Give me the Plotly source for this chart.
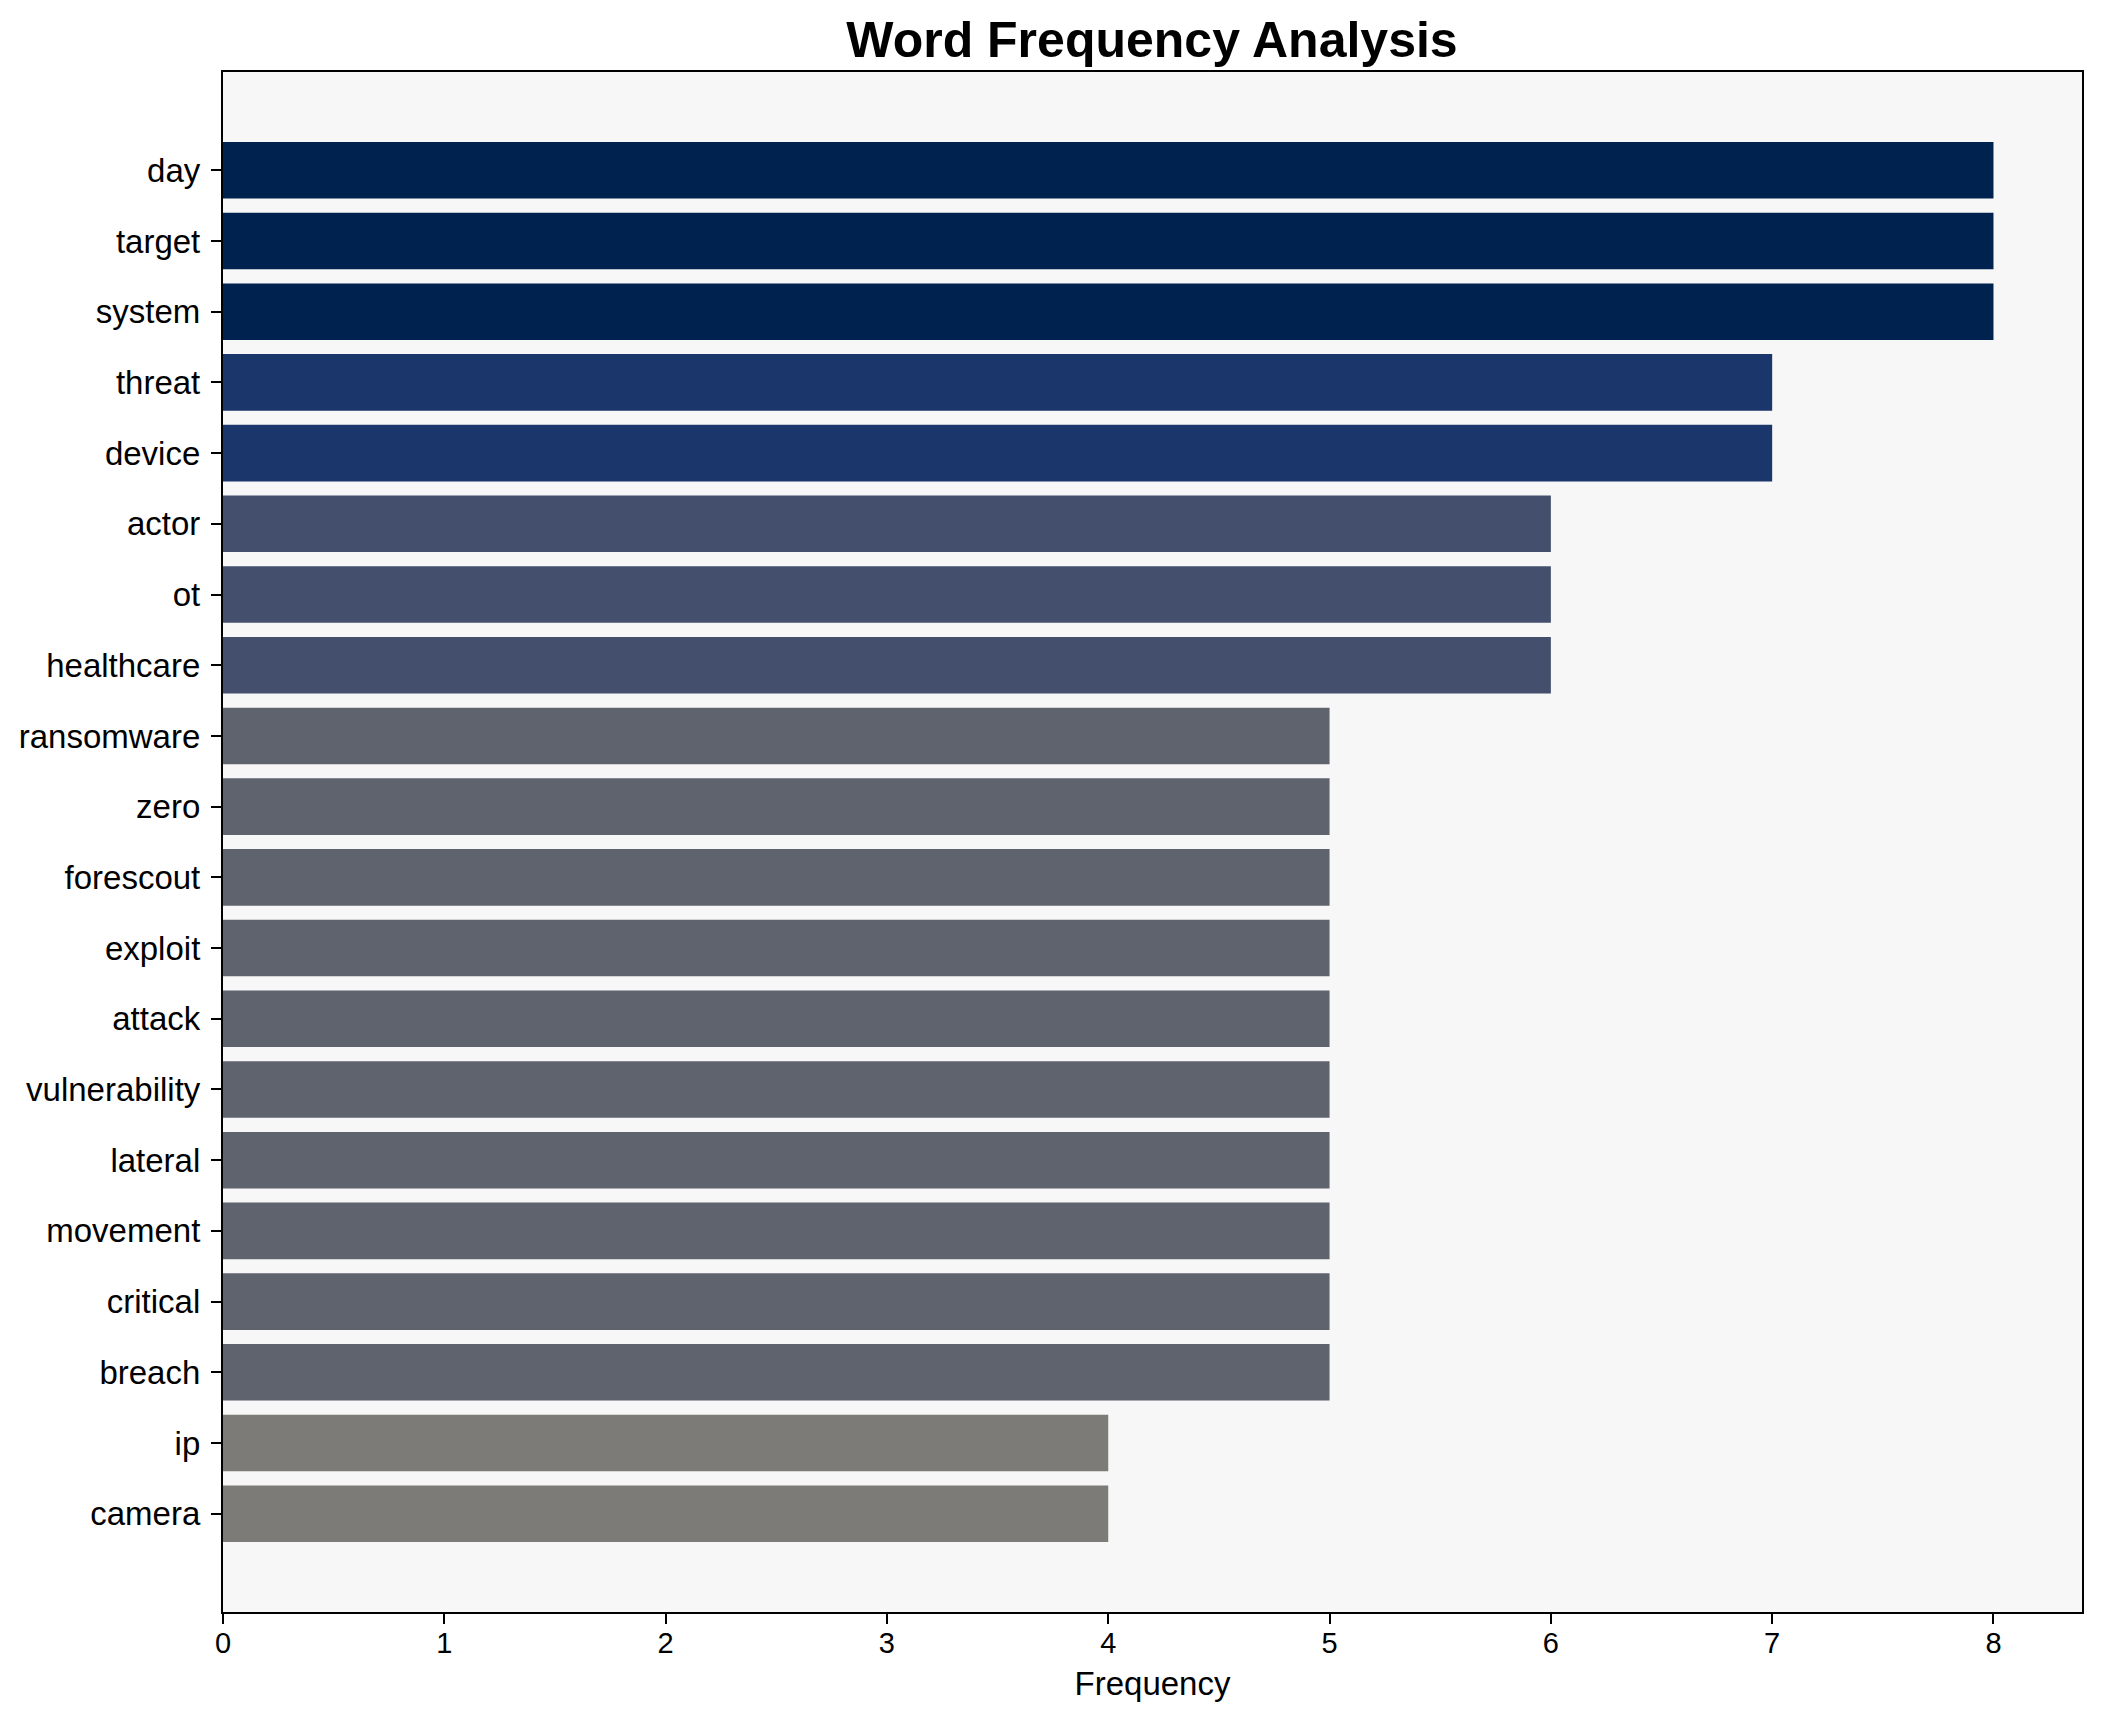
import plotly.graph_objects as go

words = ["day", "target", "system", "threat", "device", "actor", "ot", "healthcare",
         "ransomware", "zero", "forescout", "exploit", "attack", "vulnerability",
         "lateral", "movement", "critical", "breach", "ip", "camera"]
freqs = [8, 8, 8, 7, 7, 6, 6, 6, 5, 5, 5, 5, 5, 5, 5, 5, 5, 5, 4, 4]
x_ticks = [0, 1, 2, 3, 4, 5, 6, 7, 8]

# cividis-like shades keyed by frequency
shade = {8: "#00224e", 7: "#1a366b", 6: "#434f6c", 5: "#5f636e", 4: "#7c7b78"}
colors = [shade[f] for f in freqs]

FONT = "Liberation Sans, Arial, sans-serif"

fig = go.Figure(go.Bar(
    x=freqs, y=words, orientation="h", width=0.8,
    marker=dict(color=colors, line=dict(width=0)),
))

# page body adds an 8px margin; compensate so the plot lands where the reference has it
W, H = 2094, 1714
n = len(words)
fig.update_layout(
    width=W, height=H,
    paper_bgcolor="white", plot_bgcolor="#f7f7f7",
    margin=dict(l=215, r=20, t=64, b=110, autoexpand=False),
    showlegend=False,
    title=dict(text="<b>Word Frequency Analysis</b>", x=1144 / W, xanchor="center",
               y=1 - 31 / H, yanchor="middle", yref="container",
               font=dict(family=FONT, size=50, color="black")),
    font=dict(family=FONT, color="black"),
)
fig.update_xaxes(
    range=[0, 8.4], tickvals=x_ticks, ticktext=[str(v) for v in x_ticks],
    showgrid=False, zeroline=False, automargin=False,
    showline=True, linecolor="black", linewidth=2.2, mirror=True,
    ticks="outside", ticklen=10, tickwidth=2.2, tickcolor="black",
    tickfont=dict(family=FONT, size=29, color="black"),
    ticklabelstandoff=-6,
    title=dict(text="Frequency", font=dict(family=FONT, size=33, color="black"), standoff=14),
)
fig.update_yaxes(
    type="category", categoryorder="array", categoryarray=words,
    range=[n - 1 + 0.4 + 0.99, -0.4 - 0.99],
    showgrid=False, zeroline=False, automargin=False,
    showline=True, linecolor="black", linewidth=2.2, mirror=True,
    ticks="outside", ticklen=10, tickwidth=2.2, tickcolor="black",
    tickfont=dict(family=FONT, size=33, color="black"),
    ticklabelstandoff=4,
)

fig.write_html("out.html")
